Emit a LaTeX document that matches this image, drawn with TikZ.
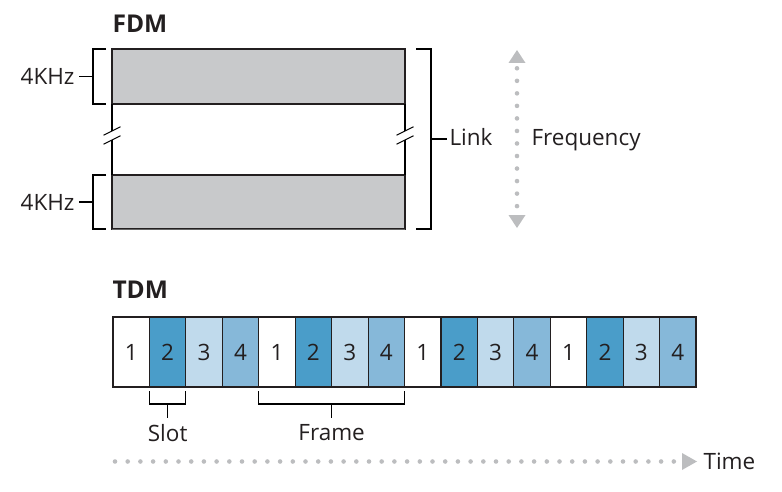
\documentclass[tikz,border=0pt]{standalone}
\usepackage{fontspec}
\setmainfont{Open Sans}
\usetikzlibrary{positioning,calc}
\definecolor{ink}{HTML}{231F20}
\definecolor{band}{HTML}{C8C9CB}
\definecolor{axis}{HTML}{BCBDBF}
\definecolor{slot1}{HTML}{FFFFFF}
\definecolor{slot2}{HTML}{4A9DC9}
\definecolor{slot3}{HTML}{C0DAEC}
\definecolor{slot4}{HTML}{86B8D9}
\begin{document}
\begin{tikzpicture}[
        x=1pt, y=-1pt,
        line width=1.1pt,
        every node/.style={text=ink, font=\fontsize{22.5}{26}\selectfont},
        titleNode/.style={font=\fontsize{24.5}{28}\selectfont\bfseries, anchor=west, inner sep=0pt},
        bandNode/.style={rectangle, draw=ink, fill=band, minimum width=293pt, minimum height=55pt, inner sep=0pt, outer sep=0pt, anchor=north west},
        slotNode/.style={rectangle, draw=ink, minimum width=36.44pt, minimum height=70pt, inner sep=0pt, outer sep=0pt},
        textNode/.style={inner sep=0pt}
    ]
        \useasboundingbox (0,0) rectangle (782,492);

        % FDM bands
        \node[titleNode] (fdm) at (112,24) {FDM};
        \node[bandNode] (upBand) at (112,49) {};
        \node[bandNode, minimum height=54pt] (lowBand) at (112,175) {};
        \draw[draw=black!60, line width=1.6pt] ([yshift=-0.6]lowBand.south west) -- ([yshift=-0.6]lowBand.south east);

        % Side lines with breaks
        \coordinate (brkL) at (112,135.75);
        \coordinate (brkR) at (405,135.75);
        \draw (upBand.south west) -- ([yshift=4.5]brkL);
        \draw ([yshift=-4.5]brkL) -- (lowBand.north west);
        \draw (upBand.south east) -- ([yshift=4.5]brkR);
        \draw ([yshift=-4.5]brkR) -- (lowBand.north east);
        \foreach \b in {brkL,brkR} {
            \draw ($(\b)+(-8.5,-0.5)$) -- ++(17,-8.5);
            \draw ($(\b)+(-8.5,8.5)$) -- ++(17,-8.5);
        }

        % Bandwidth labels
        \node[textNode, anchor=east] (khzUp) at ([xshift=-37]upBand.west) {4KHz};
        \node[textNode, anchor=east] (khzLow) at ([xshift=-37]lowBand.west) {4KHz};
        \draw ([xshift=-6]upBand.north west) -| ([xshift=-19]upBand.south west) -- ([xshift=-6]upBand.south west);
        \draw ([xshift=-6]lowBand.north west) -| ([xshift=-19]lowBand.south west) -- ([xshift=-6]lowBand.south west);
        \draw ([xshift=4]khzUp.east) -- ([xshift=-19]upBand.west);
        \draw ([xshift=4]khzLow.east) -- ([xshift=-19]lowBand.west);

        % Link bracket
        \draw ([xshift=11]upBand.north east) -| ([xshift=26]lowBand.south east) -- ([xshift=11]lowBand.south east);
        \coordinate (linkTick) at ($(upBand.north east)!0.5!(lowBand.south east)+(26,0)$);
        \node[textNode, anchor=base west] (link) at ($(linkTick)+(18,6.5)$) {Link};
        \draw (linkTick) -- ++(16,0);

        % Frequency axis
        \coordinate (freqTop) at (517,50);
        \coordinate (freqBot) at (517,228);
        \fill[axis] (freqTop) -- ++(8.5,13) -- ++(-17,0) -- cycle;
        \fill[axis] (freqBot) -- ++(8.5,-13) -- ++(-17,0) -- cycle;
        \foreach \k in {0,...,11}
            \fill[axis] ($(freqTop)+(0,18.3+12.53*\k)$) circle (2.3pt);
        \node[textNode, anchor=base west] (freq) at (531,145.5) {Frequency};

        % TDM slots
        \node[titleNode] (tdm) at (112,290) {TDM};
        \foreach \i in {1,...,16} {
            \pgfmathtruncatemacro\n{mod(\i-1,4)+1}
            \node[slotNode, fill=slot\n] (s\i) at (131.22+36.44*\i-36.44,352) {\n};
        }

        % Slot and frame brackets
        \draw ([yshift=-4]s2.south west) -- ([yshift=-17]s2.south west) -- ([yshift=-17]s2.south east) -- ([yshift=-4]s2.south east);
        \node[textNode, anchor=north] (slot) at ([yshift=-37]s2.south) {Slot};
        \draw ([yshift=-17]s2.south) -- ([yshift=6]slot.north);
        \coordinate (frameL) at ([yshift=-17]s5.south west);
        \coordinate (frameR) at ([yshift=-17]s8.south east);
        \draw ([yshift=-4]s5.south west) -- (frameL) -- (frameR) -- ([yshift=-4]s8.south east);
        \node[textNode, anchor=north] (frame) at ($(s5.south west)!0.5!(s8.south east)+(0,37)$) {Frame};
        \draw ($(frameL)!0.5!(frameR)$) -- ([yshift=6]frame.north);

        % Time axis
        \coordinate (timeTip) at (697,461.5);
        \fill[axis] (timeTip) -- ++(-15,-8.5) -- ++(0,17) -- cycle;
        \foreach \k in {0,...,44}
            \fill[axis] (115+12.7*\k,461.5) circle (2.3pt);
        \node[textNode, anchor=west] (time) at ([xshift=6]timeTip) {Time};
    \end{tikzpicture}
\end{document}
